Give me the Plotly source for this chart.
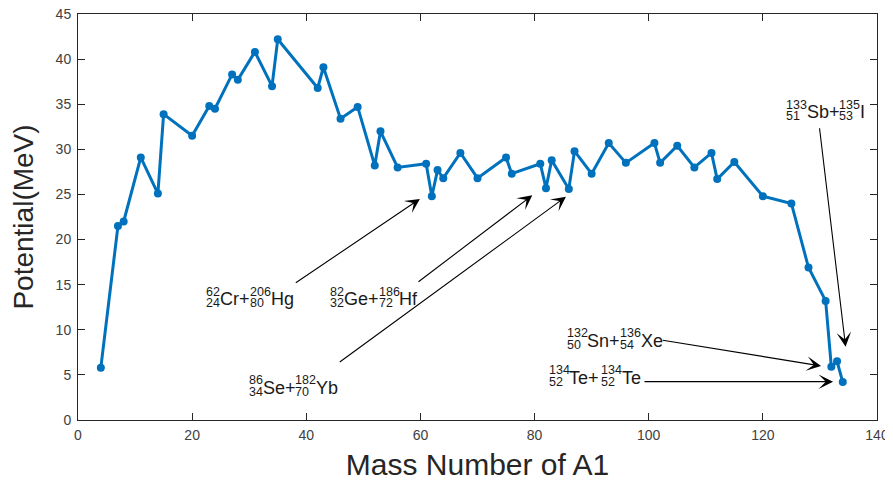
import plotly.graph_objects as go

# ---------------- data ----------------
mass_a1 = [4, 7, 8, 11, 14, 15, 20, 23, 24, 27, 28, 31, 34, 35, 42, 43, 46, 49,
           52, 53, 56, 61, 62, 63, 64, 67, 70, 75, 76, 81, 82, 83, 86, 87, 90,
           93, 96, 101, 102, 105, 108, 111, 112, 115, 120, 125, 128, 131, 132,
           133, 134]
potential = [5.8, 21.5, 22.0, 29.1, 25.1, 33.9, 31.5, 34.8, 34.5, 38.3, 37.7,
             40.8, 37.0, 42.2, 36.8, 39.1, 33.4, 34.7, 28.2, 32.0, 28.0, 28.4,
             24.8, 27.7, 26.8, 29.6, 26.8, 29.1, 27.3, 28.4, 25.7, 28.8, 25.6,
             29.8, 27.3, 30.7, 28.5, 30.7, 28.5, 30.4, 28.0, 29.6, 26.7, 28.6,
             24.8, 24.0, 16.9, 13.2, 5.9, 6.5, 4.2]

x_ticks = [0, 20, 40, 60, 80, 100, 120, 140]
y_ticks = [0, 5, 10, 15, 20, 25, 30, 35, 40, 45]

# fission channels: (A1, Z1, symbol1), (A2, Z2, symbol2)
channels = [
    (("62", "24", "Cr"), ("206", "80", "Hg")),
    (("82", "32", "Ge"), ("186", "72", "Hf")),
    (("86", "34", "Se"), ("182", "70", "Yb")),
    (("132", "50", "Sn"), ("136", "54", "Xe")),
    (("134", "52", "Te"), ("134", "52", "Te")),
    (("133", "51", "Sb"), ("135", "53", "I")),
]
# label anchor (data coords) and alignment
label_x = [37.6, 59.3, 45.4, 102.3, 98.8, 130.8]
label_y = [13.4, 13.4, 3.55, 8.76, 4.66, 34.1]
label_align = ["right", "right", "right", "right", "right", "center"]
# arrow tails and heads (data coords)
tail_x = [37.9, 59.4, 45.6, 102.2, 99.0, 129.9]
tail_y = [15.1, 15.2, 6.3, 8.87, 4.25, 32.5]
head_x = [59.9, 79.6, 85.5, 130.2, 132.3, 134.5]
head_y = [24.5, 24.9, 24.75, 5.99, 4.25, 8.12]

# ---------------- style ----------------
FONT = "Liberation Sans, Arial, Helvetica, sans-serif"
BLUE = "#0072BD"
AXC = "#262626"
MAIN = 18
SCRIPT = 12.5

W = {"C": 722, "r": 333, "+": 584, "H": 722, "g": 556, "G": 778, "e": 556,
     "f": 278, "S": 667, "Y": 667, "b": 556, "n": 556, "X": 667, "T": 611,
     "I": 278}


def tw(s, size):
    return sum(W.get(ch, 556) for ch in s) / 1000.0 * size


fig = go.Figure()
fig.add_trace(go.Scatter(
    x=mass_a1, y=potential, mode="lines+markers",
    line=dict(color=BLUE, width=3),
    marker=dict(color=BLUE, size=8),
    showlegend=False, hoverinfo="x+y",
))

annotations = []
for i, (n1, n2) in enumerate(channels):
    pieces = []
    pieces.append(("scr", n1[0], n1[1]))
    pieces.append(("main", n1[2] + "+"))
    pieces.append(("scr", n2[0], n2[1]))
    pieces.append(("main", n2[2]))
    widths = []
    for p in pieces:
        if p[0] == "scr":
            widths.append(max(tw(p[1], SCRIPT), tw(p[2], SCRIPT)))
        else:
            widths.append(tw(p[1], MAIN))
    total = sum(widths)
    off = -total if label_align[i] == "right" else -total / 2.0
    for p, w in zip(pieces, widths):
        if p[0] == "scr":
            for txt, ys in ((p[1], 7.5), (p[2], -4)):
                annotations.append(dict(
                    x=label_x[i], y=label_y[i], xref="x", yref="y",
                    xanchor="left", yanchor="middle", xshift=off,
                    yshift=ys, text=txt, showarrow=False, borderpad=0,
                    font=dict(family=FONT, size=SCRIPT, color="#1a1a1a")))
        else:
            annotations.append(dict(
                x=label_x[i], y=label_y[i], xref="x", yref="y",
                xanchor="left", yanchor="middle", xshift=off,
                text=p[1], showarrow=False, borderpad=0,
                font=dict(family=FONT, size=MAIN, color="#1a1a1a")))
        off += w
    annotations.append(dict(
        x=head_x[i], y=head_y[i], ax=tail_x[i], ay=tail_y[i],
        xref="x", yref="y", axref="x", ayref="y", text="",
        showarrow=True, arrowhead=3, arrowsize=2.2, arrowwidth=1.1,
        arrowcolor="black"))

# page body adds an 8 px offset, so the figure is sized to fit the window
fig.update_layout(
    width=885, height=473,
    margin=dict(l=70, r=16, t=6, b=61),
    paper_bgcolor="white", plot_bgcolor="white",
    font=dict(family=FONT, color=AXC),
    annotations=annotations,
    xaxis=dict(
        range=[0, 140], tickvals=x_ticks, ticktext=[str(v) for v in x_ticks],
        showgrid=False, zeroline=False, showline=True, linecolor=AXC,
        linewidth=1, mirror="ticks", ticks="inside", ticklen=7,
        tickcolor=AXC, automargin=False, ticklabelstandoff=2,
        ticklabeloverflow="allow",
        tickfont=dict(family=FONT, size=14, color="#404040"),
        title=dict(text="Mass Number of A1", standoff=12,
                   font=dict(family=FONT, size=30, color=AXC)),
    ),
    yaxis=dict(
        range=[0, 45], tickvals=y_ticks, ticktext=[str(v) for v in y_ticks],
        showgrid=False, zeroline=False, showline=True, linecolor=AXC,
        linewidth=1, mirror="ticks", ticks="inside", ticklen=7,
        tickcolor=AXC, automargin=False, ticklabelstandoff=3,
        ticklabeloverflow="allow",
        tickfont=dict(family=FONT, size=14, color="#404040"),
        title=dict(text="Potential(MeV)", standoff=16,
                   font=dict(family=FONT, size=28, color=AXC)),
    ),
)

fig.write_html("out.html")
